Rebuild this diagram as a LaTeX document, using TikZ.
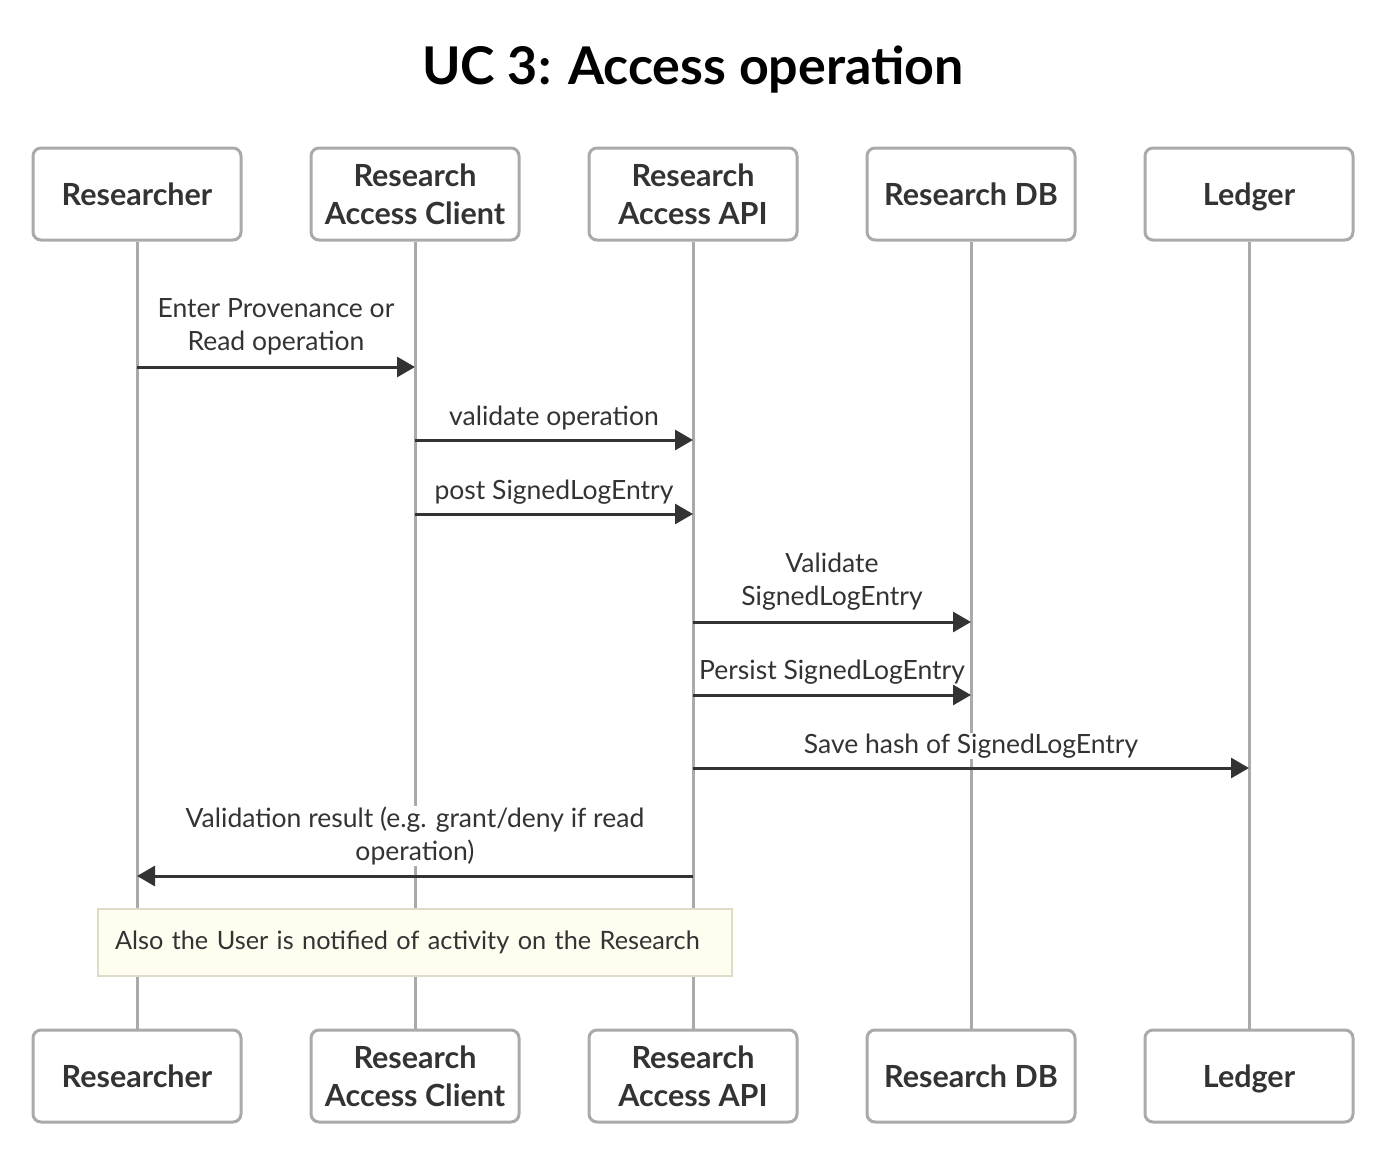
\documentclass[tikz,border=0pt]{standalone}
\usepackage{fontspec}
\setmainfont{Lato}
\usetikzlibrary{arrows.meta,positioning}
\definecolor{ink}{HTML}{333333}
\definecolor{lifegray}{HTML}{AAAAAA}
\definecolor{notefill}{HTML}{FEFDF0}
\definecolor{noteline}{HTML}{DEDCC6}
\newcommand{\nodepth}[1]{\raisebox{0pt}[\height][0pt]{#1}}
\tikzset{
  actor/.style={draw=lifegray, line width=3pt, rounded corners=8pt, fill=white,
    minimum width=208pt, minimum height=92pt, align=center, text=ink,
    font=\fontsize{30.5}{38}\selectfont\bfseries},
  life/.style={draw=lifegray, line width=3pt},
  msg/.style={draw=ink, line width=3pt, -{Triangle[length=18pt,width=20pt]}},
  msglabel/.style={fill=white, inner sep=1pt, align=center, text=ink,
    font=\fontsize{26.5}{33}\selectfont},
}

\begin{document}
\begin{tikzpicture}[x=1pt,y=-1pt]
  \useasboundingbox (0,0) rectangle (1390,1154);
  \node[text=black, font=\fontsize{52}{60}\selectfont\bfseries] (title) at (693,70) {UC 3: Access operation};

  % participants, top and bottom
  \node[actor] (res)  at (137,194)  {Researcher};
  \node[actor] (cli)  at (415,194)  {Research\\Access Client};
  \node[actor] (api)  at (693,194)  {Research\\Access API};
  \node[actor] (db)   at (971,194)  {Research DB};
  \node[actor] (led)  at (1249,194) {\nodepth{Ledger}};
  \node[actor] (resB) at (137,1076)  {Researcher};
  \node[actor] (cliB) at (415,1076)  {Research\\Access Client};
  \node[actor] (apiB) at (693,1076)  {Research\\Access API};
  \node[actor] (dbB)  at (971,1076)  {Research DB};
  \node[actor] (ledB) at (1249,1076) {\nodepth{Ledger}};

  % lifelines
  \draw[life] (res) -- (resB);
  \draw[life] (cli) -- (cliB);
  \draw[life] (api) -- (apiB);
  \draw[life] (db) -- (dbB);
  \draw[life] (led) -- (ledB);

  % messages
  \coordinate (m1) at (0,367);
  \coordinate (m2) at (0,440);
  \coordinate (m3) at (0,514);
  \coordinate (m4) at (0,622);
  \coordinate (m5) at (0,695);
  \coordinate (m6) at (0,768);
  \coordinate (m7) at (0,876);

  \draw[msg] (res |- m1) -- (cli |- m1);
  \node[msglabel] (l1) at (276,327) {Enter Provenance or\\Read operation};
  \draw[msg] (cli |- m2) -- (api |- m2);
  \node[msglabel] (l2) at (554,418) {validate operation};
  \draw[msg] (cli |- m3) -- (api |- m3);
  \node[msglabel] (l3) at (554,492) {post SignedLogEntry};
  \draw[msg] (api |- m4) -- (db |- m4);
  \node[msglabel] (l4) at (832,582) {Validate\\SignedLogEntry};
  \draw[msg] (api |- m5) -- (db |- m5);
  \node[msglabel] (l5) at (832,672) {Persist SignedLogEntry};
  \draw[msg] (api |- m6) -- (led |- m6);
  \node[msglabel] (l6) at (971,746) {Save hash of SignedLogEntry};
  \draw[msg] (api |- m7) -- (res |- m7);
  \node[msglabel] (l7) at (415,836) {Validation result (e.g. grant/deny if read\\operation)};

  % note
  \node[draw=noteline, line width=1.5pt, fill=notefill, text=ink, inner xsep=17pt,
    text width=600pt, minimum height=67pt, align=left,
    font=\fontsize{25.3}{33}\selectfont] (note) at (415,942.5)
    {Also the User is notified of activity on the Research};
\end{tikzpicture}
\end{document}
